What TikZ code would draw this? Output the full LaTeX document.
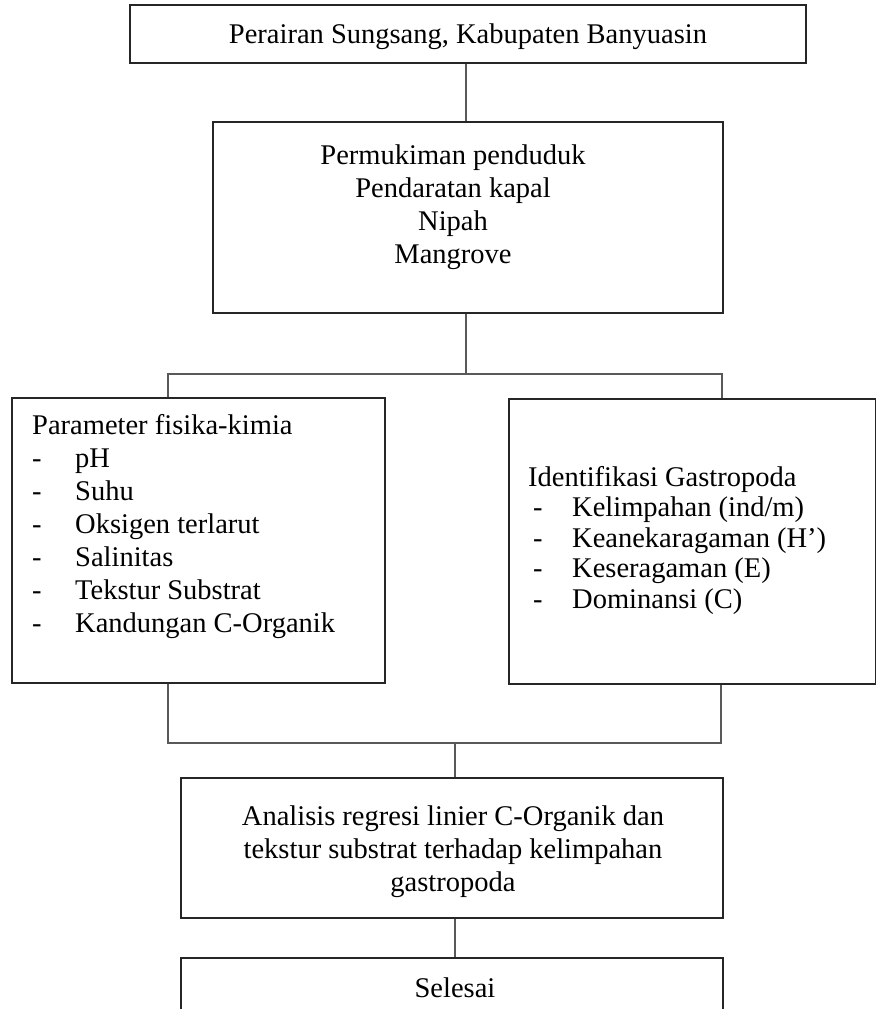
\documentclass[tikz,border=0pt]{standalone}
\usepackage{fontspec}
\setmainfont{Liberation Serif}
\begin{document}
\begin{tikzpicture}[x=1pt,y=-1pt,
  box/.style={draw=black!85,line width=1.3pt,rectangle,inner sep=0pt},
  conn/.style={draw=black!65,line width=1.2pt},
  txt/.style={inner sep=0pt,font=\fontsize{28.5}{33}\selectfont},
  txtr/.style={inner sep=0pt,font=\fontsize{28.5}{30.5}\selectfont}]
\useasboundingbox (0,0) rectangle (877,1009);
\clip (0,0) rectangle (877,1009);
% boxes
\node[box,minimum width=676pt,minimum height=58pt] (top) at (468,34) {};
\node[box,minimum width=510pt,minimum height=191pt] (mid) at (468,217.5) {};
\node[box,minimum width=373pt,minimum height=285pt] (left) at (198.5,540.5) {};
\node[box,minimum width=366.5pt,minimum height=285pt] (right) at (692.25,541.5) {};
\node[box,minimum width=542pt,minimum height=140pt] (anal) at (452,848) {};
\node[box,minimum width=542pt,minimum height=100pt] (sel) at (452,1008) {};
% texts
\node[txt,anchor=base] (ttop) at (468,43) {Perairan Sungsang, Kabupaten Banyuasin};
\node[txt,anchor=base] (tmid) at (453,164) {\begin{tabular}[t]{@{}c@{}}Permukiman penduduk\\Pendaratan kapal\\Nipah\\Mangrove\end{tabular}};
\node[txt,anchor=base west] (tleft) at (32,434) {\begin{tabular}[t]{@{}p{43pt}@{}l@{}}\multicolumn{2}{@{}l@{}}{Parameter fisika-kimia}\\
-&pH\\-&Suhu\\-&Oksigen terlarut\\-&Salinitas\\-&Tekstur Substrat\\-&Kandungan C-Organik\end{tabular}};
\node[txtr,anchor=base west] (tright) at (528,486) {\begin{tabular}[t]{@{}p{44pt}@{}l@{}}\multicolumn{2}{@{}l@{}}{Identifikasi Gastropoda}\\
\hspace*{5pt}-&Kelimpahan (ind/m)\\\hspace*{5pt}-&Keanekaragaman (H’)\\\hspace*{5pt}-&Keseragaman (E)\\\hspace*{5pt}-&Dominansi (C)\end{tabular}};
\node[txt,anchor=base] (tanal) at (453,825) {\begin{tabular}[t]{@{}c@{}}Analisis regresi linier C-Organik dan\\tekstur substrat terhadap kelimpahan\\gastropoda\end{tabular}};
\node[txt,anchor=base] (tsel) at (455,997) {Selesai};
% connectors
\coordinate (bl) at (168,374);
\coordinate (br) at (722,374);
\coordinate (bm) at (466,374);
\draw[conn] (bm |- top.south) -- (bm |- mid.north);
\draw[conn] (bm |- mid.south) -- (bm);
\draw[conn] (bl |- left.north) -- (bl) -- (br) -- (br |- right.north);
\coordinate (jl) at (168,743);
\coordinate (jr) at (721,743);
\coordinate (jm) at (455,743);
\draw[conn] (jl |- left.south) -- (jl) -- (jr) -- (jr |- right.south);
\draw[conn] (jm) -- (jm |- anal.north);
\draw[conn] (jm |- anal.south) -- (jm |- sel.north);
\end{tikzpicture}
\end{document}
